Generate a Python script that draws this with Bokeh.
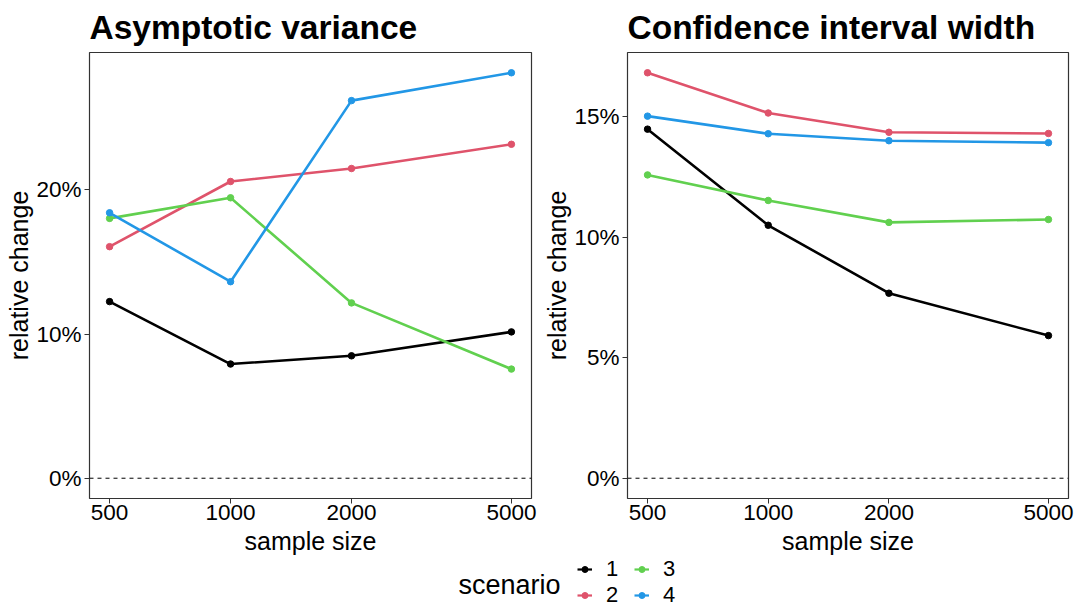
import math
from bokeh.plotting import figure
from bokeh.models import FixedTicker, PrintfTickFormatter, Span, Legend, LegendItem, Label, Range1d
from bokeh.layouts import column, row
from bokeh.embed import file_html
from bokeh.resources import INLINE

# ---------------- data ----------------
sample_sizes = [500, 1000, 2000, 5000]
scenarios = ["1", "2", "3", "4"]
colors = ["#000000", "#DF536B", "#61D04F", "#2297E6"]

# Asymptotic variance: relative change (%)
var_s1 = [12.25, 7.92, 8.49, 10.15]
var_s2 = [16.06, 20.58, 21.48, 23.16]
var_s3 = [18.02, 19.45, 12.16, 7.57]
var_s4 = [18.41, 13.63, 26.19, 28.12]

# Confidence interval width: relative change (%)
ciw_s1 = [14.49, 10.50, 7.68, 5.92]
ciw_s2 = [16.83, 15.16, 14.36, 14.31]
ciw_s3 = [12.59, 11.53, 10.62, 10.74]
ciw_s4 = [15.03, 14.30, 14.01, 13.93]

var_ticks = [0, 10, 20]
ciw_ticks = [0, 5, 10, 15]

FONT = "Liberation Sans"


def log_range(xs):
    lo, hi = math.log10(min(xs)), math.log10(max(xs))
    pad = 0.05 * (hi - lo)
    return Range1d(10 ** (lo - pad), 10 ** (hi + pad))


def lin_range(series):
    vals = [v for s in series for v in s] + [0]
    lo, hi = min(vals), max(vals)
    pad = 0.05 * (hi - lo)
    return Range1d(lo - pad, hi + pad)


def make_panel(title, series, ticks, width, height, bl, br):
    p = figure(width=width, height=height, x_axis_type="log",
               x_range=log_range(sample_sizes), y_range=lin_range(series),
               output_backend="svg", toolbar_location=None,
               min_border_left=bl, min_border_right=br,
               min_border_top=51, min_border_bottom=height - 51 - 447)
    p.title.text = title
    p.title.text_font = FONT
    p.title.text_font_size = "33.5px"
    p.title.text_font_style = "bold"
    p.title.text_color = "black"
    p.title.standoff = 13
    p.title.offset = 0
    p.xgrid.visible = False
    p.ygrid.visible = False
    p.outline_line_color = "#333333"
    p.outline_line_width = 1.2
    p.background_fill_color = "white"
    p.border_fill_color = "white"

    p.add_layout(Span(location=0, dimension="width", line_color="black",
                      line_width=1, line_dash="4 4"))
    for vals, c in zip(series, colors):
        p.line(sample_sizes, vals, line_color=c, line_width=2.6)
        p.scatter(sample_sizes, vals, size=6.5, fill_color=c, line_color=c)

    for ax in (p.xaxis[0], p.yaxis[0]):
        ax.axis_line_color = None
        ax.major_tick_line_color = "#333333"
        ax.major_tick_line_width = 1
        ax.major_tick_out = 5
        ax.major_tick_in = 0
        ax.minor_tick_line_color = None
        ax.major_label_text_font = FONT
        ax.major_label_text_font_size = "22.5px"
        ax.major_label_text_color = "black"
        ax.axis_label_text_font = FONT
        ax.axis_label_text_font_size = "25px"
        ax.axis_label_text_font_style = "normal"
        ax.axis_label_text_color = "black"

    p.xaxis.ticker = FixedTicker(ticks=sample_sizes)
    p.xaxis.formatter = PrintfTickFormatter(format="%d")
    p.xaxis.axis_label = "sample size"
    p.xaxis.major_label_standoff = 1
    p.xaxis.axis_label_standoff = 4

    p.yaxis.ticker = FixedTicker(ticks=ticks)
    p.yaxis.formatter = PrintfTickFormatter(format="%d%%")
    p.yaxis.axis_label = "relative change"
    p.yaxis.major_label_standoff = 3
    p.yaxis.axis_label_standoff = 0
    return p


H_TOP = 557
p1 = make_panel("Asymptotic variance", [var_s1, var_s2, var_s3, var_s4],
                var_ticks, 540, H_TOP, 89, 9)
p2 = make_panel("Confidence interval width", [ciw_s1, ciw_s2, ciw_s3, ciw_s4],
                ciw_ticks, 537, H_TOP, 87, 9)

# ---------------- legend strip ----------------
pl = figure(width=1077, height=607 - H_TOP, x_range=Range1d(0, 1), y_range=Range1d(0, 1),
            output_backend="svg", toolbar_location=None,
            x_axis_location=None, y_axis_location=None,
            min_border=0, min_border_left=0, min_border_right=0,
            min_border_top=0, min_border_bottom=0)
pl.outline_line_color = None
pl.xgrid.visible = False
pl.ygrid.visible = False

items = []
for lab, vals, c in zip(scenarios, [var_s1, var_s2, var_s3, var_s4], colors):
    # these sit outside the strip's range; only their legend keys are seen
    r1 = pl.line(sample_sizes, vals, line_color=c, line_width=2.2)
    r2 = pl.scatter(sample_sizes, vals, size=6, fill_color=c, line_color=c)
    items.append(LegendItem(label=lab, renderers=[r1, r2]))

leg = Legend(items=items, location=(577, -1), orientation="vertical", nrows=2,
             padding=0, margin=0, spacing=-1, glyph_width=15, glyph_height=20,
             label_standoff=14, label_width=28, label_height=20,
             label_text_font=FONT, label_text_font_size="22px",
             label_text_color="black", label_text_baseline="middle",
             border_line_color=None, background_fill_alpha=0)
pl.add_layout(leg)

pl.add_layout(Label(x=560, y=23, x_units="screen", y_units="screen", text="scenario",
                    text_align="right", text_baseline="middle",
                    text_font=FONT, text_font_size="27px", text_color="black"))

layout = column(row(p1, p2), pl)
open("out.html", "w").write(file_html(layout, INLINE))
